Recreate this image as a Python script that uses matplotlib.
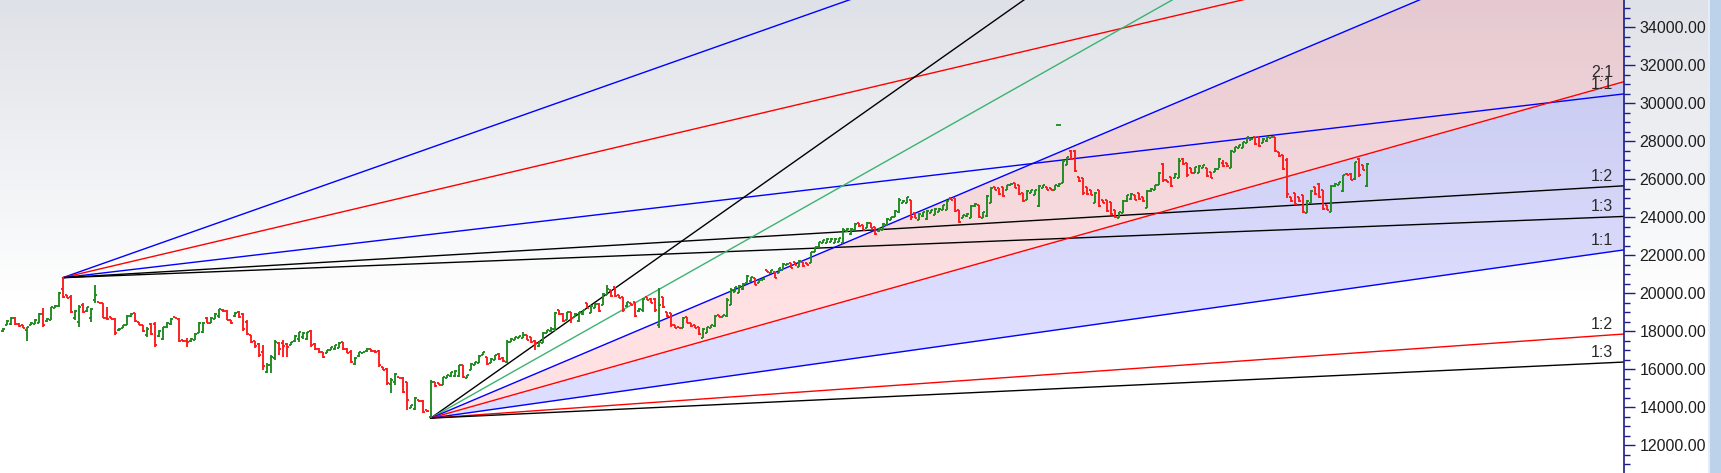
import numpy as np
import matplotlib
matplotlib.use('Agg')
import matplotlib.pyplot as plt
from matplotlib.collections import LineCollection
from matplotlib.patches import Rectangle
from matplotlib.ticker import MultipleLocator, FormatStrFormatter

plt.rcParams['font.family'] = ['Liberation Sans', 'DejaVu Sans']

# --- OHLC bars (bar index 0..341) ---
opens = [
    18000, 18350, 18400, 18700, 18400, 18300, 18050, 18350, 18400, 18450,
    18900, 18510, 18600, 19220, 19300, 20200, 19880, 19800, 18700, 18500,
    19400, 19050, 18700, 19650, 19540, 19460, 18700, 18740, 18650, 18040,
    18160, 18330, 18780, 18930, 18480, 18300, 17800, 18400, 18400, 17750,
    17600, 18200, 18400, 18720, 18650, 17520, 17500, 17460, 17550, 17900,
    17950, 18700, 18450, 18650, 18800, 19140, 19050, 18580, 18780, 19000,
    18900, 18500, 17780, 17480, 17300, 16900, 15850, 16200, 16600, 17400,
    17400, 17300, 17280, 17460, 17600, 17700, 17600, 18000, 17300, 17080,
    16900, 16850, 17020, 17050, 17100, 17420, 17050, 16900, 16250, 16680,
    16840, 16930, 17040, 16950, 16950, 16120, 16000, 15200, 15300, 15590,
    15550, 15300, 13960, 13900, 14360, 14300, 13840, 13500,
    15340, 15250, 15180, 15520, 15620, 15650, 15650, 16200, 15540, 15980,
    16220, 16310, 16750, 16650, 16320, 16500, 16820, 16600, 16400, 17450,
    17550, 17630, 17640, 17790, 17700, 17500, 17200, 17360, 17890, 18000,
    18100, 19100, 18900, 18600, 19000, 18770, 18550, 18900, 19460, 18950,
    19220, 19450, 19380, 19900, 20160, 20300, 19900, 19800, 19300, 19460,
    19550, 19050, 19100, 19800, 19700,
    19700, 18300, 19800, 19020, 18930, 18320, 18230, 18160, 18760, 18410,
    18320, 18230, 17650, 17900, 18150, 18250, 18850, 18770, 18780, 19380,
    20080, 20000, 20200, 20520, 20620, 20780, 20520, 20700, 21220, 21050,
    21130, 21050, 21220, 21490, 21570, 21650, 21400, 21650, 21570, 21570,
    22190, 22450, 22620, 22630, 22710, 22630, 22720, 22650, 23250, 23100,
    23350, 23670, 23580, 23420, 23670, 23500,
    23250, 23350, 23600, 23860, 24030, 24250, 24740, 24740, 24900, 24200,
    23870, 24040, 23900, 24220, 24130, 24300, 24390, 24400, 24990, 24990,
    24380, 23950, 24040, 23950, 24570, 24640, 23950, 24050, 24750, 25600,
    25520, 25600, 25450, 25700, 25780, 25690, 25250, 24900, 25270, 25180,
    24600, 25530, 25600, 25520, 25440, 25620, 25800, 26760, 27500, 27500,
    26130, 26040, 25600, 25430, 24750, 25430, 24900,
    24900, 24800, 24370, 23960, 24220, 24850, 24950, 25160, 25250, 25080,
    24500, 25360, 25450, 25700, 26800, 25960, 26130, 26050, 26050, 27090,
    26830, 26570, 26320, 26320, 26580, 26570, 26390, 26400, 26560, 26850,
    26830, 26600, 27460, 27640, 27650, 27900, 28080, 28230, 28230, 27900,
    28000, 28160, 28230, 27450, 27270, 27000, 25080, 25250, 25080, 25160,
    24220, 24750, 25600, 25770, 25420, 24640, 24300, 25620, 25700, 25400,
    26300, 26300, 25990, 27090, 26740, 25650,
]
highs = [
    18150, 18590, 18760, 18760, 18410, 18320, 18240, 18500, 18620, 18940,
    19200, 18670, 19290, 19380, 20080, 20850, 19900, 19900, 19110, 19380,
    19500, 19290, 19200, 20430, 19550, 19500, 19290, 18760, 18670, 18150,
    18320, 18850, 18940, 18940, 18500, 18320, 18240, 18450, 18500, 18060,
    18240, 18500, 18670, 18730, 18670, 17530, 17620, 17620, 17880, 18500,
    18500, 18760, 18760, 18940, 19150, 19150, 19100, 18590, 19000, 19050,
    18950, 18590, 17800, 17500, 17360, 17270, 16300, 16740, 17530, 17450,
    17530, 17360, 17450, 17800, 17970, 17970, 17970, 18060, 17360, 17090,
    16920, 17010, 17180, 17270, 17450, 17450, 17090, 17010, 16660, 16920,
    16920, 17090, 17050, 17000, 17010, 16130, 16040, 15510, 15780, 15600,
    15600, 15340, 14110, 14550, 14370, 14370, 13850, 15430,
    15340, 15260, 15600, 15690, 15870, 15955, 16220, 16220, 15690, 16306,
    16394, 16745, 16920, 16657, 16569, 16745, 16832, 16657, 17535, 17622,
    17710, 17750, 17973, 17798, 17710, 17535, 17447, 17973, 18061, 18237,
    19026, 19114, 18939, 19026, 19026, 18939, 19026, 19114, 19465, 19377,
    19465, 19465, 19991, 20430, 20167, 20340, 19904, 19816, 19553, 19465,
    19553, 19202, 19728, 19816, 19728,
    19729, 20255, 19817, 19027, 18939, 18325, 18237, 18763, 18763, 18412,
    18325, 18237, 18149, 18237, 18325, 18851, 18851, 18851, 19729, 20255,
    20343, 20431, 20519, 20957, 20870, 20782, 20694, 20782, 21220, 21220,
    21133, 21308, 21571, 21571, 21571, 21659, 21747, 21659, 21571, 22186,
    22449, 22712, 22800, 22888, 22888, 22888, 22888, 23414, 23414, 23414,
    23677, 23677, 23590, 23765, 23677, 23502,
    23415, 23678, 23941, 24029, 24380, 24994, 24907, 25082, 24907, 24205,
    24205, 24292, 24380, 24380, 24468, 24468, 24643, 24907, 24994, 24994,
    24380, 24117, 24205, 24643, 24731, 24643, 24292, 25170, 25609, 25609,
    25521, 25609, 25696, 25784, 25784, 25696, 25258, 25433, 25433, 25433,
    25696, 25696, 25609, 25521, 25696, 25784, 27013, 27188, 27539, 27539,
    26135, 26047, 25609, 25433, 25345, 25433, 24907,
    24907, 24819, 24380, 24293, 24907, 25170, 25258, 25170, 25258, 25082,
    25433, 25521, 25697, 26399, 26837, 25960, 26135, 26311, 27101, 27101,
    26837, 26574, 26662, 26750, 26750, 26574, 26399, 26574, 27101, 27013,
    26837, 27539, 27715, 27803, 27978, 28241, 28154, 28241, 28241, 28154,
    28241, 28241, 28241, 27452, 27276, 27101, 25082, 25258, 25082, 25170,
    24907, 25433, 25609, 25784, 25433, 24644, 25697, 25784, 25872, 26223,
    26311, 26311, 26925, 27101, 26750, 26837,
]
lows = [
    17970, 18320, 18320, 18320, 18240, 18150, 17500, 18320, 18370, 18410,
    18240, 18500, 18590, 19200, 19290, 19730, 19730, 18940, 18590, 18240,
    18940, 19020, 18500, 19460, 19460, 18670, 18590, 18620, 17800, 18030,
    18150, 18320, 18760, 18500, 18320, 17970, 17710, 17800, 17180, 17710,
    17530, 18150, 18320, 18670, 17450, 17450, 17180, 17450, 17530, 17880,
    17880, 18410, 18410, 18620, 18670, 19020, 18590, 18400, 18750, 18700,
    18000, 17800, 17400, 17090, 16660, 15950, 15780, 15780, 16480, 16740,
    16660, 16660, 17270, 17450, 17450, 17600, 17530, 17180, 17010, 16830,
    16570, 16830, 17010, 17010, 17090, 17010, 16830, 16300, 16220, 16660,
    16830, 16920, 16920, 16850, 16130, 15950, 15160, 14720, 15160, 15510,
    14720, 13850, 13940, 13850, 14290, 13670, 13760, 13420,
    15077, 15165, 15165, 15516, 15600, 15600, 15600, 15516, 15516, 15950,
    16218, 16306, 16745, 16218, 16306, 16482, 16482, 16394, 16306, 17447,
    17535, 17622, 17622, 17535, 17359, 17008, 17184, 17359, 17886, 17973,
    18000, 18851, 18500, 18588, 18412, 18763, 18500, 18851, 19202, 18939,
    19202, 19026, 19377, 19880, 19816, 19816, 19728, 19026, 19290, 19377,
    18763, 19026, 19026, 19641, 19465,
    19027, 18149, 19202, 18763, 18237, 18149, 18149, 18149, 18412, 18237,
    18149, 17798, 17623, 17886, 18149, 18237, 18763, 18763, 18763, 19378,
    20080, 19992, 20168, 20519, 20606, 20431, 20519, 20694, 21133, 21045,
    20782, 21045, 21220, 21484, 21308, 21484, 21396, 21396, 21484, 21571,
    22186, 22449, 22625, 22625, 22712, 22625, 22712, 22625, 23239, 23063,
    23327, 23502, 23327, 23414, 23414, 23063,
    23239, 23327, 23590, 23854, 24029, 24205, 24731, 24731, 23854, 23941,
    23854, 24029, 23854, 24205, 24117, 24292, 24380, 24380, 24907, 24292,
    23678, 23941, 24029, 23941, 24556, 23941, 23941, 24029, 24731, 25433,
    25170, 25082, 25433, 25696, 25521, 25170, 24819, 24907, 25258, 25170,
    24556, 25521, 25433, 25433, 25433, 25609, 25784, 26749, 27013, 26398,
    25872, 25170, 25170, 25170, 24731, 24556, 24731,
    24293, 24117, 23941, 23941, 24205, 24819, 24907, 24907, 24907, 24819,
    24468, 25346, 25433, 25697, 25872, 25872, 25609, 26048, 26048, 26750,
    26135, 26311, 26311, 26311, 26574, 26135, 26048, 26399, 26574, 26662,
    26662, 26574, 27452, 27627, 27627, 27890, 28066, 27803, 27715, 27890,
    27978, 28154, 27452, 27188, 26486, 24995, 24819, 24644, 24819, 24205,
    24205, 24731, 25170, 24995, 24380, 24380, 24293, 25609, 25697, 25346,
    26223, 25960, 25960, 26135, 26486, 25609,
]
closes = [
    18120, 18550, 18700, 18400, 18250, 18180, 18200, 18450, 18600, 18900,
    18300, 18650, 19250, 19350, 20000, 19800, 19750, 19000, 19050, 19250,
    19000, 19250, 19150, 19900, 19470, 18700, 18620, 18640, 17900, 18130,
    18300, 18800, 18920, 18520, 18340, 18000, 18100, 17850, 17250, 18000,
    18200, 18450, 18650, 18680, 17500, 17460, 17450, 17600, 17850, 18450,
    18450, 18450, 18700, 18900, 19150, 19050, 18600, 18420, 18950, 18750,
    18100, 17850, 17450, 17200, 16750, 16150, 16200, 16650, 17450, 17050,
    17200, 17150, 17420, 17750, 17950, 17900, 17950, 17250, 17050, 16900,
    16650, 16990, 17170, 17250, 17400, 17050, 16850, 16350, 16600, 16900,
    16910, 17080, 16930, 16900, 16200, 15980, 15250, 15450, 15750, 15520,
    14800, 14350, 14090, 14500, 14300, 13750, 13770, 15300,
    15120, 15180, 15560, 15680, 15850, 15900, 16200, 15600, 15680, 16280,
    16380, 16700, 16900, 16250, 16550, 16720, 16550, 16420, 17450, 17600,
    17690, 17740, 17800, 17560, 17450, 17350, 17420, 17900, 18040, 18100,
    18950, 18880, 18550, 19000, 18700, 18920, 18990, 19100, 19220, 19350,
    19450, 19050, 19950, 20200, 19850, 19850, 19740, 19100, 19530, 19390,
    18800, 19180, 19700, 19650, 19500,
    19100, 19400, 19250, 18800, 18300, 18170, 18160, 18700, 18450, 18250,
    18160, 17850, 18100, 18200, 18300, 18800, 18770, 18840, 19650, 20150,
    20300, 20400, 20500, 20900, 20850, 20450, 20680, 20770, 21140, 21200,
    20800, 21300, 21550, 21560, 21320, 21500, 21700, 21420, 21490, 22150,
    22430, 22700, 22780, 22850, 22870, 22860, 22880, 23350, 23400, 23380,
    23650, 23520, 23350, 23700, 23430, 23100,
    23400, 23650, 23900, 24000, 24350, 24900, 24880, 25050, 24000, 23960,
    24180, 24270, 24350, 24360, 24440, 24450, 24620, 24880, 24920, 24350,
    23750, 24100, 24190, 24600, 24720, 24000, 24280, 25100, 25550, 25450,
    25200, 25100, 25680, 25770, 25540, 25200, 24850, 25400, 25420, 25410,
    25650, 25680, 25450, 25440, 25680, 25770, 26950, 27150, 27050, 26450,
    25900, 25300, 25200, 25180, 25300, 24600, 24750,
    24350, 24150, 24000, 24270, 24880, 25150, 25230, 24930, 24950, 24840,
    25400, 25500, 25680, 26350, 25950, 25880, 25650, 26290, 26950, 26780,
    26200, 26330, 26640, 26700, 26730, 26150, 26070, 26560, 27050, 26700,
    26680, 27500, 27700, 27790, 27950, 28200, 28140, 27850, 27750, 28130,
    28220, 28230, 27500, 27200, 26550, 25200, 24850, 24700, 24830, 24300,
    24880, 25400, 25200, 25050, 24450, 24400, 25650, 25770, 25850, 26200,
    26230, 25980, 26900, 26200, 26500, 26800,
]

# stray tick above the bars
stray_bar = 264
stray_price = 28855

# --- Gann fans ---
pivot1_bar, pivot1_price, unit1 = 15, 20815, 24.8
pivot2_bar, pivot2_price, unit2 = 107, 13420, 29.7
fan1_ratios = [3, 2, 1, 1 / 2, 1 / 3]
fan1_labels = ['3:1', '2:1', '1:1', '1:2', '1:3']
fan1_colors = ['#0000ff', '#ff0000', '#0000ff', '#000000', '#000000']
fan2_ratios = [5, 4, 3, 2, 1, 1 / 2, 1 / 3]
fan2_labels = ['5:1', '4:1', '3:1', '2:1', '1:1', '1:2', '1:3']
fan2_colors = ['#000000', '#3cb371', '#0000ff', '#ff0000', '#0000ff', '#ff0000', '#000000']

W, H = 1721, 473
plot_w = 1624            # pixel where price axis sits
bar_x0, bar_px = 2.7, 4.0
x_lo = -bar_x0 / bar_px
x_hi = (plot_w - bar_x0) / bar_px
y_lo, y_hi = 10530, 35440

fig = plt.figure(figsize=(W / 100, H / 100), dpi=100)

# background gradient (grey at top fading to white)
bg = fig.add_axes([0, 0, 1, 1], zorder=0)
bg.set_xlim(0, W)
bg.set_ylim(H, 0)
bg.axis('off')
top = np.array([222, 225, 231]) / 255.0
t = np.clip(np.arange(H) / 300.0, 0, 1)[:, None]
grad = top * (1 - t) + 1.0 * t
bg.imshow(grad[:, None, :], aspect='auto', extent=[0, 1708, H, 0], interpolation='bilinear')
bg.add_patch(Rectangle((1708, 0), W - 1708, H, color='#bcd2eb', lw=0))
bg.add_patch(Rectangle((1708, 0), 1.5, H, color='#e4edf7', lw=0))

ax = fig.add_axes([0, 0, plot_w / W, 1], zorder=1)
ax.patch.set_alpha(0)
ax.set_xlim(x_lo, x_hi)
ax.set_ylim(y_lo, y_hi)

# shaded zones of the lower fan
xs = np.array([pivot2_bar, x_hi])
def fan2_line(r):
    return pivot2_price + r * unit2 * (xs - pivot2_bar)
ax.fill_between(xs, fan2_line(2), fan2_line(3), color=(1.0, 0.47, 0.51), alpha=0.22, lw=0, zorder=1)
ax.fill_between(xs, fan2_line(1), fan2_line(2), color=(0.4, 0.4, 1.0), alpha=0.22, lw=0, zorder=1)

label_color = '#2a2a2a'
for p_bar, p_price, unit, ratios, labels, colors in [
        (pivot1_bar, pivot1_price, unit1, fan1_ratios, fan1_labels, fan1_colors),
        (pivot2_bar, pivot2_price, unit2, fan2_ratios, fan2_labels, fan2_colors)]:
    for r, lbl, c in zip(ratios, labels, colors):
        end = p_price + r * unit * (x_hi - p_bar)
        ax.plot([p_bar, x_hi], [p_price, end], color=c, lw=1.0, zorder=2)
        if y_lo < end < y_hi:
            ax.annotate(lbl, xy=(x_hi, end), xytext=(-11, 5), textcoords='offset pixels',
                        ha='right', va='baseline', fontsize=11.5, color=label_color)

# OHLC bars
w = 0.5
segs, cols = [], []
for i, (o, h, l, c) in enumerate(zip(opens, highs, lows, closes)):
    col = '#1f8a1f' if c >= o else '#ff1a1a'
    segs += [[(i, l), (i, h)], [(i - w, o), (i, o)], [(i, c), (i + w, c)]]
    cols += [col] * 3
ax.add_collection(LineCollection(segs, colors=cols, linewidths=1.35, zorder=3))
ax.hlines(stray_price, stray_bar - 0.6, stray_bar + 0.6, color='#1f8a1f', lw=1.3, zorder=3)

# price axis on the right
navy = '#1c1c86'
for s in ['top', 'left', 'bottom']:
    ax.spines[s].set_visible(False)
ax.spines['right'].set_color(navy)
ax.spines['right'].set_linewidth(1.2)
ax.set_xticks([])
ax.yaxis.tick_right()
ax.yaxis.set_major_locator(MultipleLocator(2000))
ax.yaxis.set_minor_locator(MultipleLocator(500))
ax.yaxis.set_major_formatter(FormatStrFormatter('%.2f'))
ax.tick_params(axis='y', which='major', length=8, width=1, color=navy, pad=3,
               labelsize=11.5, labelcolor='#1e1e1e')
ax.tick_params(axis='y', which='minor', length=4, width=1, color=navy)

fig.savefig('out.png', dpi=100)
